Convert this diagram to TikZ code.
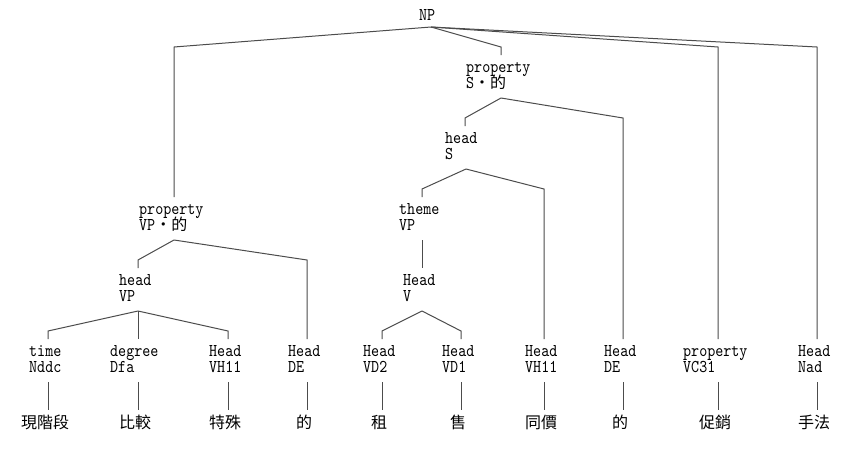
\documentclass[tikz,border=0pt]{standalone}
\usepackage{fontspec}
\newfontfamily\labfont[FakeStretch=0.85]{lmmono10-regular.otf}
\newfontfamily\cjk{Noto Sans CJK TC}
\newcommand\zh[1]{{\cjk\fontsize{16}{16}\selectfont #1}}
\newcommand\zhdot{\makebox[16pt]{\zh{‧}}}
\newcommand\tnode[5]{%
  \node[lab] (#1) at ({#2},{#3+17})
    {\vtop{\baselineskip=16pt\lineskiplimit=-100pt\lineskip=0pt\hbox{#4}\hbox{#5}}};}
\newcommand\tword[3]{%
  \coordinate (#1-wt) at ({#2},382);
  \coordinate (#1-wb) at ({#2},410);
  \node[word] (#1-w) at ({#2-3},428) {\zh{#3}};
  \draw[edge] (#1-wt) -- (#1-wb);}
\begin{document}
\begin{tikzpicture}[x=1pt,y=-1pt,
  lab/.style={font=\labfont\fontsize{18}{18}\selectfont, inner sep=0pt, anchor=base west},
  word/.style={inner sep=0pt, anchor=base},
  edge/.style={draw=black!70, line width=1pt}]
\useasboundingbox[fill=white] (0,0) rectangle (862,458);

% root
\node[lab] (NP) at (419,20) {NP};
\coordinate (NPa) at (431,27);
% apexes
\coordinate (Ba) at (501,98);
\coordinate (HSa) at (466,169);
\coordinate (TVa) at (422,240);
\coordinate (Aa) at (174,240);
\coordinate (HVPa) at (138,311);
\coordinate (HVa) at (422,311);

% labels of inner nodes
\tnode{A}{139}{197}{property}{VP\zhdot\zh{的}}
\tnode{B}{466}{55}{property}{S\zhdot\zh{的}}
\tnode{HS}{445}{126}{head}{S}
\tnode{TV}{399}{197}{theme}{VP}
\tnode{HV}{403}{268}{Head}{V}
\tnode{HVP}{119}{268}{head}{VP}
% leaves
\tnode{L1}{29}{339}{time}{Nddc}
\tnode{L2}{110}{339}{degree}{Dfa}
\tnode{L3}{209}{339}{Head}{VH11}
\tnode{L4}{288}{339}{Head}{DE}
\tnode{L5}{363}{339}{Head}{VD2}
\tnode{L6}{442}{339}{Head}{VD1}
\tnode{L7}{525}{339}{Head}{VH11}
\tnode{L8}{604}{339}{Head}{DE}
\tnode{L9}{683}{339}{property}{VC31}
\tnode{L10}{798}{339}{Head}{Nad}

% elbows and ends
\coordinate (A-e) at (174,47);  \coordinate (A-t) at (174,197);
\coordinate (B-e) at (501,47);  \coordinate (B-t) at (501,55);
\coordinate (L9-e) at (718,47); \coordinate (L9-t) at (718,339);
\coordinate (L10-e) at (817,47);\coordinate (L10-t) at (817,339);
\coordinate (HS-e) at (465,118);\coordinate (HS-t) at (465,126);
\coordinate (L8-e) at (623,118);\coordinate (L8-t) at (623,339);
\coordinate (TV-e) at (422,189);\coordinate (TV-t) at (422,197);
\coordinate (L7-e) at (544,189);\coordinate (L7-t) at (544,339);
\coordinate (HV-t) at (422,268);
\coordinate (L5-e) at (382,331);\coordinate (L5-t) at (382,339);
\coordinate (L6-e) at (461,331);\coordinate (L6-t) at (461,339);
\coordinate (HVP-e) at (138,260);\coordinate (HVP-t) at (138,268);
\coordinate (L4-e) at (307,260);\coordinate (L4-t) at (307,339);
\coordinate (L1-e) at (48,331); \coordinate (L1-t) at (48,339);
\coordinate (L2-t) at (138,339);
\coordinate (L3-e) at (228,331);\coordinate (L3-t) at (228,339);

\draw[edge] (NPa) -- (A-e) -- (A-t);
\draw[edge] (NPa) -- (B-e) -- (B-t);
\draw[edge] (NPa) -- (L9-e) -- (L9-t);
\draw[edge] (NPa) -- (L10-e) -- (L10-t);
\draw[edge] (Ba) -- (HS-e) -- (HS-t);
\draw[edge] (Ba) -- (L8-e) -- (L8-t);
\draw[edge] (HSa) -- (TV-e) -- (TV-t);
\draw[edge] (HSa) -- (L7-e) -- (L7-t);
\draw[edge] (TVa) -- (HV-t);
\draw[edge] (HVa) -- (L5-e) -- (L5-t);
\draw[edge] (HVa) -- (L6-e) -- (L6-t);
\draw[edge] (Aa) -- (HVP-e) -- (HVP-t);
\draw[edge] (Aa) -- (L4-e) -- (L4-t);
\draw[edge] (HVPa) -- (L1-e) -- (L1-t);
\draw[edge] (HVPa) -- (L2-t);
\draw[edge] (HVPa) -- (L3-e) -- (L3-t);

% words
\tword{L1}{48}{現階段}
\tword{L2}{138}{比較}
\tword{L3}{228}{特殊}
\tword{L4}{307}{的}
\tword{L5}{382}{租}
\tword{L6}{461}{售}
\tword{L7}{544}{同價}
\tword{L8}{623}{的}
\tword{L9}{718}{促銷}
\tword{L10}{817}{手法}
\end{tikzpicture}
\end{document}
